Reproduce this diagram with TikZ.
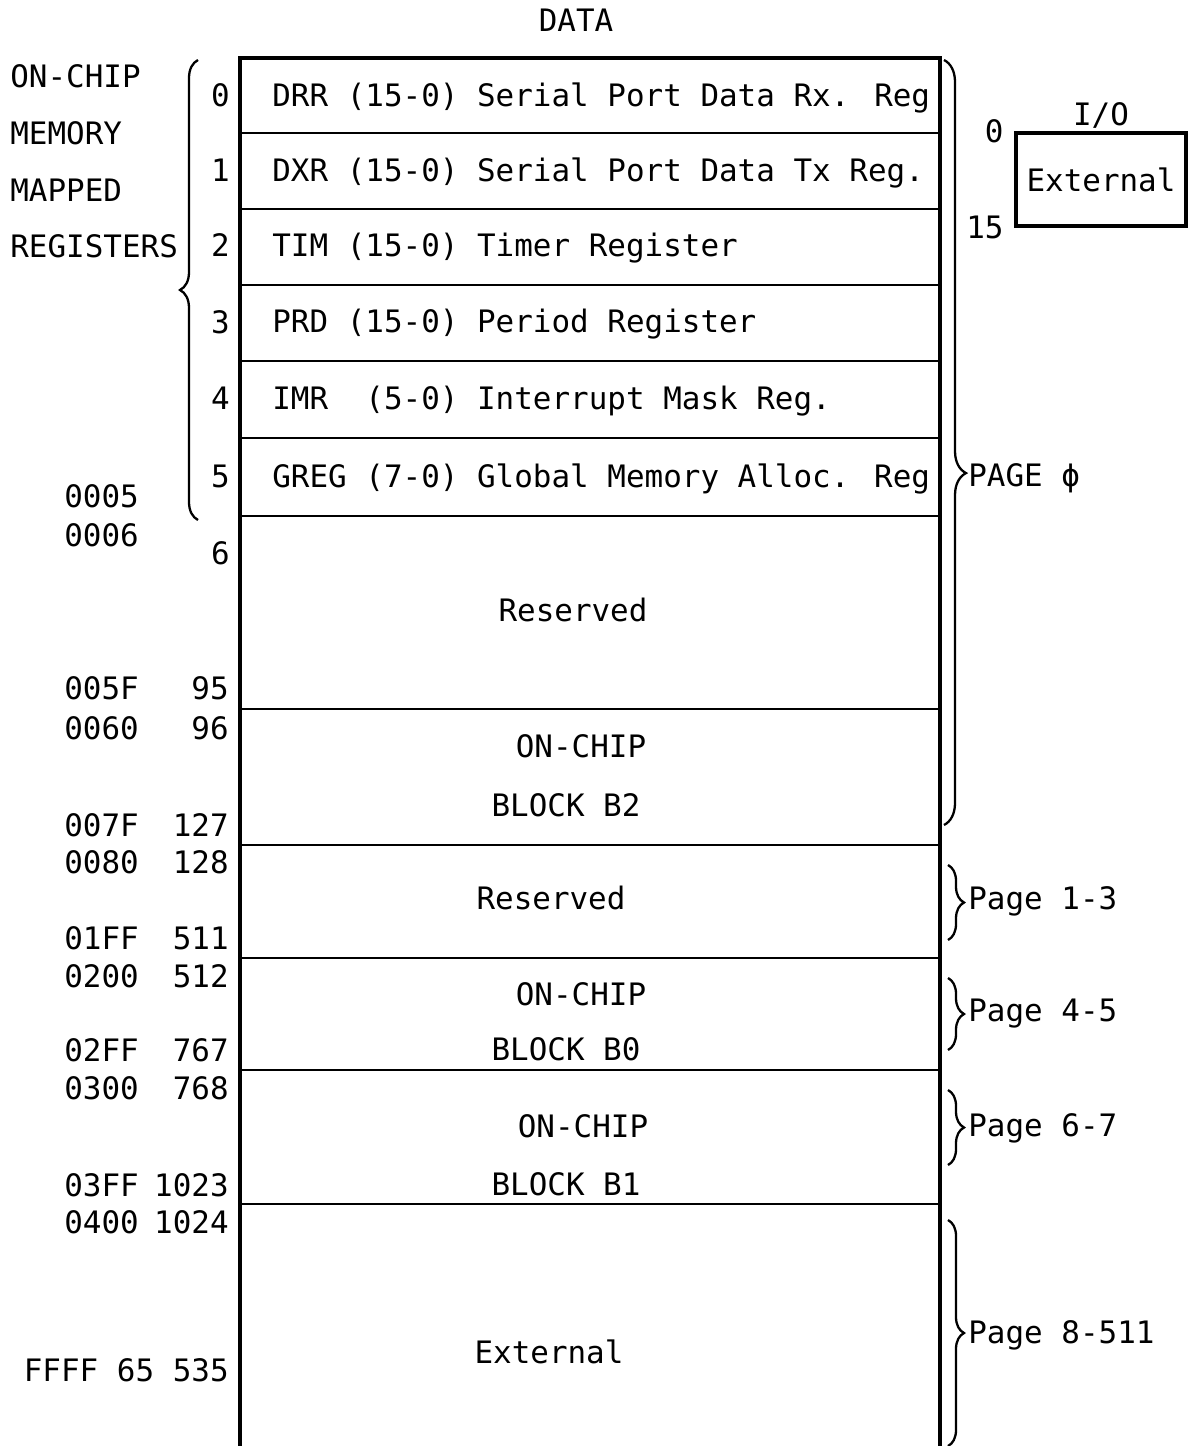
\documentclass[tikz,border=0pt]{standalone}
\usepackage{fontspec}
\newfontfamily\mapfont{DejaVu Sans Mono}
\usetikzlibrary{decorations.pathreplacing,positioning}

\begin{document}
\begin{tikzpicture}[x=0.02cm, y=-0.02cm,
		font=\mapfont\fontsize{17.6pt}{20pt}\selectfont,
		lbl/.style={inner sep=0pt, text height=12.8pt, text depth=0pt},
		frame/.style={line width=1.8pt},
		divider/.style={line width=1.2pt},
		curly/.style={decorate, decoration={brace, amplitude=#1}, line width=1.3pt}]
		\useasboundingbox (0,0) rectangle (1190,1446);
		% title
		\node[lbl] (title) at (576,20) {DATA};
		% data memory frame and dividers
		\draw[frame] (240,1446) -- (240,58) -- (940,58) -- (940,1446);
		\foreach \y in {133,209,285,361,438,516,709,845,958,1070,1204}
			\draw[divider] (240,\y) -- (940,\y);
		% memory mapped registers
		\node[lbl, anchor=west] (drr) at (272,95) {DRR (15-0) Serial Port Data Rx. Reg};
		\node[lbl, anchor=west] (dxr) at (272,170) {DXR (15-0) Serial Port Data Tx Reg.};
		\node[lbl, anchor=west] (tim) at (272,245) {TIM (15-0) Timer Register};
		\node[lbl, anchor=west] (prd) at (272,321) {PRD (15-0) Period Register};
		\node[lbl, anchor=west] (imr) at (272,398) {IMR\ \ (5-0) Interrupt Mask Reg.};
		\node[lbl, anchor=west] (greg) at (272,476) {GREG (7-0) Global Memory Alloc. Reg};
		% block names
		\node[lbl] (resa) at (573,610) {Reserved};
		\node[lbl] (btwoa) at (581,746) {ON-CHIP};
		\node[lbl] (btwob) at (566,805) {BLOCK B2};
		\node[lbl] (resb) at (551,898) {Reserved};
		\node[lbl] (bzeroa) at (581,994) {ON-CHIP};
		\node[lbl] (bzerob) at (566,1049) {BLOCK B0};
		\node[lbl] (bonea) at (583,1126) {ON-CHIP};
		\node[lbl] (boneb) at (566,1184) {BLOCK B1};
		\node[lbl] (ext) at (549,1352) {External};
		% left labels
		\node[lbl, anchor=west] (onchip) at (10,76) {ON-CHIP};
		\node[lbl, anchor=west] (memory) at (10,133) {MEMORY};
		\node[lbl, anchor=west] (mapped) at (10,190) {MAPPED};
		\node[lbl, anchor=west] (regs) at (10,246) {REGISTERS};
		\draw[curly=0.36cm] (198,520) -- (198,60);
		% addresses
		\foreach \i/\y in {0/95,1/170,2/245,3/322,4/398,5/476,6/553}
			\node[lbl, anchor=east] (idx\i) at (230,\y) {\i};
		\foreach \d/\y in {95/688,96/728,127/825,128/862,511/938,512/976,767/1050,768/1088,1023/1185,1024/1222}
			\node[lbl, anchor=east] (dec\d) at (229,\y) {\d};
		\foreach \h/\y in {0005/496,0006/535,005F/688,0060/728,007F/825,0080/862,01FF/938,0200/976,02FF/1050,0300/1088,03FF/1185,0400/1222}
			\node[lbl, anchor=west] (hex\h) at (64,\y) {\h};
		\node[lbl, anchor=east] (top) at (229,1370) {FFFF 65 535};
		% pages
		\draw[curly=0.44cm, decoration={aspect=0.54}] (944,60) -- (944,825);
		\node[lbl, anchor=west] (pzero) at (968,475) {PAGE ϕ};
		\draw[curly=0.32cm] (948,865) -- (948,940);
		\node[lbl, anchor=west] (pone) at (968,898) {Page 1-3};
		\draw[curly=0.32cm] (948,978) -- (948,1050);
		\node[lbl, anchor=west] (pfour) at (968,1010) {Page 4-5};
		\draw[curly=0.32cm] (948,1090) -- (948,1165);
		\node[lbl, anchor=west] (psix) at (968,1125) {Page 6-7};
		\draw[curly=0.32cm] (948,1220) -- (948,1446);
		\node[lbl, anchor=west] (peight) at (968,1332) {Page 8-511};
		% I/O space
		\node[draw, frame, minimum width=3.4cm, minimum height=1.86cm] (ioext) at (1101,179.5) {External};
		\node[lbl, above=3pt of ioext.north] (io) {I/O};
		\node[lbl, left=6pt of ioext.north west] (iozero) {0};
		\node[lbl, left=6pt of ioext.south west] (iofif) {15};
	\end{tikzpicture}
\end{document}
